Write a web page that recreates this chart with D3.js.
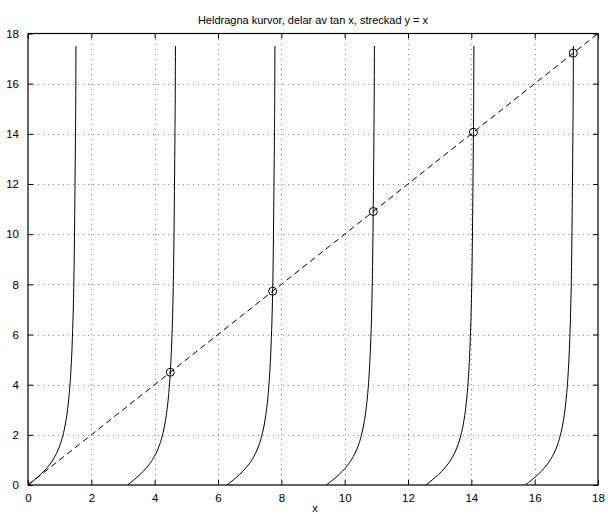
<!DOCTYPE html>
<html><head><meta charset="utf-8">
<script src="https://cdn.jsdelivr.net/npm/d3@7"></script>
<style>body{margin:0;background:#fff}svg{display:block}</style>
</head><body>
<script>
// Data
const xTicks = [0,2,4,6,8,10,12,14,16,18];
const yTicks = [0,2,4,6,8,10,12,14,16,18];
// branch start points (multiples of pi)
const branchStarts = [0, 3.1416, 6.2832, 9.4248, 12.5664, 15.7080];
// shape of one tan branch: offset from start and value
const profileDx = [0, 0.1, 0.2, 0.3, 0.4, 0.5, 0.6, 0.7, 0.8, 0.9, 1.0, 1.1, 1.2, 1.25, 1.3, 1.35, 1.4, 1.43, 1.46, 1.48, 1.5, 1.51, 1.514];
const profileY  = [0, 0.100, 0.203, 0.309, 0.423, 0.546, 0.684, 0.842, 1.030, 1.260, 1.557, 1.965, 2.572, 3.010, 3.602, 4.455, 5.798, 7.018, 9.047, 11.38, 14.10, 15.94, 17.50];
// intersections y = x and tan x
const crossX = [4.4934, 7.7253, 10.9041, 14.0662, 17.2208];
const lineX = [0, 18];
const title = "Heldragna kurvor, delar av tan x, streckad y = x";
const xLabel = "x";

const W = 608, H = 514;
const x0 = 28, x1 = 598, y0 = 485, y1 = 33.5;
const x = d3.scaleLinear().domain([0,18]).range([x0,x1]);
const y = d3.scaleLinear().domain([0,18]).range([y0,y1]);

const svg = d3.select("body").append("svg").attr("width",W).attr("height",H)
  .style("font-family","'Liberation Sans', Arial, Helvetica, sans-serif");

// grid
const g = svg.append("g");
g.selectAll("line.gx").data(xTicks.slice(1,-1)).join("line")
  .attr("x1",d=>Math.round(x(d))+0.5).attr("x2",d=>Math.round(x(d))+0.5).attr("y1",y0).attr("y2",y1)
  .attr("stroke","#888").attr("stroke-width",1).attr("stroke-dasharray","1,4");
g.selectAll("line.gy").data(yTicks.slice(1,-1)).join("line")
  .attr("y1",d=>Math.round(y(d))+0.5).attr("y2",d=>Math.round(y(d))+0.5).attr("x1",x0).attr("x2",x1)
  .attr("stroke","#888").attr("stroke-width",1).attr("stroke-dasharray","1,4");

// clip
svg.append("clipPath").attr("id","clip").append("rect")
  .attr("x",x0).attr("y",y1).attr("width",x1-x0).attr("height",y0-y1);

const plot = svg.append("g").attr("clip-path","url(#clip)");
const line = d3.line().x(d=>x(d[0])).y(d=>y(d[1])).curve(d3.curveMonotoneX);

branchStarts.forEach(s=>{
  const pts = profileDx.map((dx,i)=>[s+dx, profileY[i]]);
  plot.append("path").attr("d",line(pts)).attr("fill","none")
    .attr("stroke","#000").attr("stroke-width",1);
});

plot.append("path").attr("d",line(lineX.map(v=>[v,v]))).attr("fill","none")
  .attr("stroke","#000").attr("stroke-width",1).attr("stroke-dasharray","6,4");

plot.selectAll("circle").data(crossX).join("circle")
  .attr("cx",d=>x(d)).attr("cy",d=>y(d)).attr("r",4)
  .attr("fill","none").attr("stroke","#000").attr("stroke-width",1);

// axes box
const xb = d3.axisBottom(x).tickValues(xTicks).tickSizeInner(-5).tickSizeOuter(0).tickPadding(9);
const xt = d3.axisTop(x).tickValues(xTicks).tickSizeInner(-5).tickSizeOuter(0).tickFormat("");
const yl = d3.axisLeft(y).tickValues(yTicks).tickSizeInner(-5).tickSizeOuter(0).tickPadding(9);
const yr = d3.axisRight(y).tickValues(yTicks).tickSizeInner(-5).tickSizeOuter(0).tickFormat("");

function style(sel){
  sel.select(".domain").remove();
  sel.selectAll("line").attr("stroke","#000");
  sel.selectAll("text").attr("fill","#000").style("font-size","11.5px");
}
svg.append("g").attr("transform",`translate(0,${y0})`).call(xb).call(style);
svg.append("g").attr("transform",`translate(0,${y1})`).call(xt).call(style);
svg.append("g").attr("transform",`translate(${x0},0)`).call(yl).call(style);
svg.append("g").attr("transform",`translate(${x1},0)`).call(yr).call(style);

svg.append("rect").attr("x",x0).attr("y",y1).attr("width",x1-x0).attr("height",y0-y1)
  .attr("fill","none").attr("stroke","#000").attr("stroke-width",1.2);

svg.append("text").attr("x",(x0+x1)/2).attr("y",24).attr("text-anchor","middle")
  .style("font-size","11px").text(title);
svg.append("text").attr("x",315).attr("y",512).attr("text-anchor","middle")
  .style("font-size","11px").text(xLabel);
</script>
</body></html>
